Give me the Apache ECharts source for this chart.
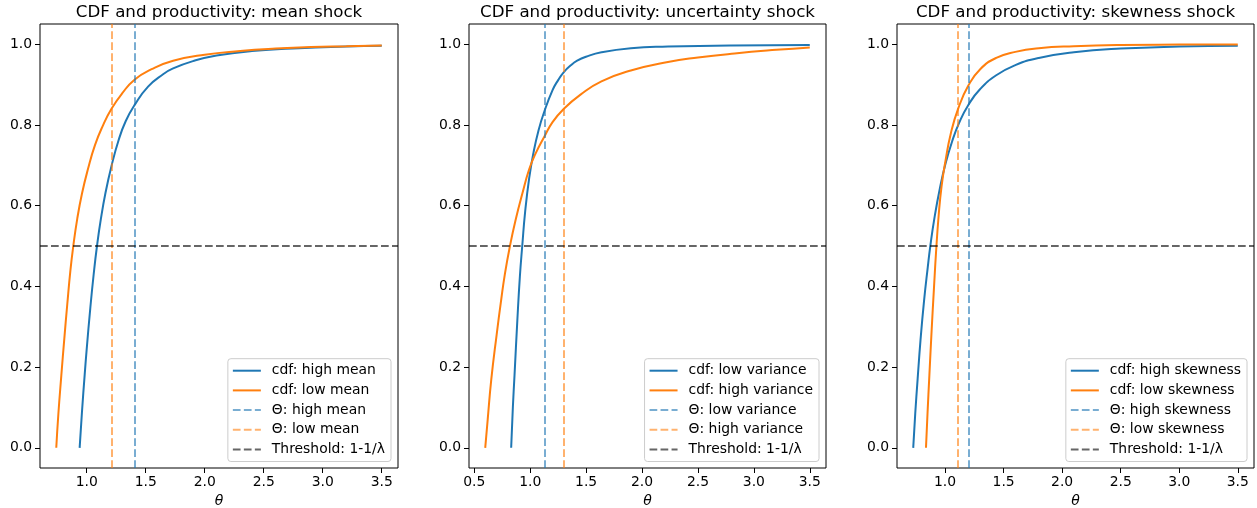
<!DOCTYPE html>
<html>
<head>
<meta charset="utf-8">
<title>CDF and productivity</title>
<script src="https://cdn.jsdelivr.net/npm/echarts@6/dist/echarts.min.js"></script>
<style>
  html, body { margin: 0; padding: 0; background: #ffffff; }
  #chart { width: 1257px; height: 508px; }
</style>
</head>
<body>
<div id="chart"></div>
<script>
// ---- values -------------------------------------------------------------
const panelTitles = [
  'CDF and productivity: mean shock',
  'CDF and productivity: uncertainty shock',
  'CDF and productivity: skewness shock'
];
const xTicks = [
  [1.0, 1.5, 2.0, 2.5, 3.0, 3.5],
  [0.5, 1.0, 1.5, 2.0, 2.5, 3.0, 3.5],
  [1.0, 1.5, 2.0, 2.5, 3.0, 3.5]
];
const yTicks = [0.0, 0.2, 0.4, 0.6, 0.8, 1.0];
const threshold = 0.5; // 1 - 1/λ

// mean shock
const thetaHighMean = [0.94, 0.96, 0.983, 1.0, 1.03, 1.059, 1.087, 1.12, 1.16, 1.209, 1.27, 1.33, 1.405, 1.52, 1.65, 1.732, 1.9, 2.1, 2.4, 2.8, 3.2, 3.5];
const cdfHighMean   = [0, 0.09, 0.182, 0.245, 0.345, 0.43, 0.5, 0.567, 0.633, 0.697, 0.762, 0.809, 0.849, 0.895, 0.926, 0.94, 0.958, 0.972, 0.983, 0.99, 0.994, 0.996];
const thetaLowMean  = [0.742, 0.76, 0.785, 0.81, 0.835, 0.862, 0.884, 0.92, 0.96, 1.01, 1.07, 1.14, 1.21, 1.3, 1.405, 1.55, 1.732, 2.0, 2.3, 2.6, 2.9, 3.2, 3.5];
const cdfLowMean    = [0, 0.085, 0.18, 0.27, 0.355, 0.44, 0.495, 0.568, 0.63, 0.69, 0.75, 0.8, 0.84, 0.878, 0.912, 0.938, 0.959, 0.974, 0.983, 0.989, 0.993, 0.995, 0.997];
const thetaMarkMean = [1.405, 1.21]; // Θ: high mean, Θ: low mean

// uncertainty shock
const thetaLowVar   = [0.83, 0.845, 0.86, 0.885, 0.908, 0.929, 0.955, 0.991, 1.03, 1.075, 1.125, 1.2, 1.25, 1.301, 1.36, 1.42, 1.5, 1.637, 1.9, 2.232, 2.8, 3.5];
const cdfLowVar     = [0, 0.1, 0.18, 0.315, 0.425, 0.5, 0.585, 0.668, 0.732, 0.787, 0.832, 0.886, 0.911, 0.931, 0.947, 0.959, 0.969, 0.98, 0.99, 0.994, 0.997, 0.998];
const thetaHighVar  = [0.598, 0.62, 0.652, 0.7, 0.74, 0.774, 0.819, 0.87, 0.93, 0.991, 1.05, 1.125, 1.2, 1.301, 1.45, 1.637, 1.9, 2.232, 2.5, 2.828, 3.2, 3.5];
const cdfHighVar    = [0, 0.07, 0.169, 0.28, 0.365, 0.431, 0.5, 0.565, 0.63, 0.69, 0.73, 0.77, 0.807, 0.84, 0.875, 0.908, 0.935, 0.956, 0.967, 0.977, 0.986, 0.992];
const thetaMarkVar  = [1.125, 1.301]; // Θ: low variance, Θ: high variance

// skewness shock
const thetaHighSkew = [0.728, 0.745, 0.766, 0.79, 0.82, 0.852, 0.874, 0.91, 0.955, 1.003, 1.06, 1.12, 1.2, 1.3, 1.437, 1.6, 1.8, 2.1, 2.5, 3.0, 3.5];
const cdfHighSkew   = [0, 0.084, 0.172, 0.266, 0.363, 0.447, 0.5, 0.571, 0.642, 0.703, 0.759, 0.805, 0.85, 0.889, 0.923, 0.948, 0.966, 0.98, 0.989, 0.994, 0.996];
const thetaLowSkew  = [0.837, 0.85, 0.866, 0.885, 0.905, 0.923, 0.945, 0.97, 1.003, 1.05, 1.114, 1.2, 1.3, 1.437, 1.6, 1.8, 2.1, 2.5, 3.0, 3.5];
const cdfLowSkew    = [0, 0.085, 0.18, 0.29, 0.395, 0.485, 0.575, 0.648, 0.71, 0.78, 0.842, 0.898, 0.938, 0.966, 0.981, 0.99, 0.995, 0.998, 0.999, 0.9995];
const thetaMarkSkew = [1.2, 1.114]; // Θ: high skewness, Θ: low skewness

// ---- styling ------------------------------------------------------------
const FONT = "'DejaVu Sans', 'Liberation Sans', sans-serif";
const BLUE = '#1f77b4';
const ORANGE = '#ff7f0e';
const BLUE_FADED = 'rgba(31,119,180,0.6)';
const ORANGE_FADED = 'rgba(255,127,14,0.6)';
const GREY = 'rgba(0,0,0,0.6)';
const DASH = [7.7, 3.3];
const LINE_W = 2;

const grids = [
  { left: 40,  top: 24, width: 358, height: 444 },
  { left: 469, top: 24, width: 357, height: 444 },
  { left: 897, top: 24, width: 357, height: 444 }
];
const legendRight = [866, 438, 10];

const panels = [
  {
    curves: [
      { name: 'cdf: high mean', theta: thetaHighMean, cdf: cdfHighMean, color: BLUE },
      { name: 'cdf: low mean',  theta: thetaLowMean,  cdf: cdfLowMean,  color: ORANGE }
    ],
    marks: [
      { name: 'Θ: high mean', x: thetaMarkMean[0], color: BLUE_FADED },
      { name: 'Θ: low mean',  x: thetaMarkMean[1], color: ORANGE_FADED }
    ]
  },
  {
    curves: [
      { name: 'cdf: low variance',  theta: thetaLowVar,  cdf: cdfLowVar,  color: BLUE },
      { name: 'cdf: high variance', theta: thetaHighVar, cdf: cdfHighVar, color: ORANGE }
    ],
    marks: [
      { name: 'Θ: low variance',  x: thetaMarkVar[0], color: BLUE_FADED },
      { name: 'Θ: high variance', x: thetaMarkVar[1], color: ORANGE_FADED }
    ]
  },
  {
    curves: [
      { name: 'cdf: high skewness', theta: thetaHighSkew, cdf: cdfHighSkew, color: BLUE },
      { name: 'cdf: low skewness',  theta: thetaLowSkew,  cdf: cdfLowSkew,  color: ORANGE }
    ],
    marks: [
      { name: 'Θ: high skewness', x: thetaMarkSkew[0], color: BLUE_FADED },
      { name: 'Θ: low skewness',  x: thetaMarkSkew[1], color: ORANGE_FADED }
    ]
  }
];
const thresholdName = 'Threshold: 1-1/λ';

// ---- option ---------------------------------------------------------------
const fmt = v => Number(v).toFixed(1);
const option = {
  animation: false,
  backgroundColor: '#ffffff',
  textStyle: { fontFamily: FONT },
  title: [], grid: [], xAxis: [], yAxis: [], legend: [], series: []
};

// a dashed reference line drawn as markLine on an otherwise empty series
function refLine(name, idx, color, where) {
  return {
    type: 'line', name, xAxisIndex: idx, yAxisIndex: idx,
    data: [], symbol: 'none',
    itemStyle: { color },
    lineStyle: { color, width: LINE_W, type: DASH },
    markLine: {
      silent: true, symbol: ['none', 'none'], animation: false,
      label: { show: false },
      emphasis: { disabled: true },
      lineStyle: { color, width: LINE_W, type: DASH, opacity: 1 },
      data: [where]
    }
  };
}

panels.forEach((p, i) => {
  const g = grids[i];
  option.grid.push(Object.assign({
    show: true, borderColor: '#000', borderWidth: 1, backgroundColor: 'transparent',
    outerBoundsMode: 'none', containLabel: false
  }, g));

  option.title.push({
    text: panelTitles[i],
    left: g.left + g.width / 2, top: 4, textAlign: 'center', padding: 0,
    textStyle: { fontFamily: FONT, fontSize: 16.7, fontWeight: 'normal', color: '#000' }
  });

  // autoscale with the usual 5 % data margin
  const allTheta = [].concat(...p.curves.map(c => c.theta));
  const lo = Math.min(...allTheta), hi = Math.max(...allTheta);
  const pad = 0.05 * (hi - lo);

  option.xAxis.push({
    type: 'value', gridIndex: i, min: lo - pad, max: hi + pad,
    name: 'θ', nameLocation: 'middle', nameGap: 26,
    nameTextStyle: { fontFamily: FONT, fontStyle: 'italic', fontSize: 14, color: '#000' },
    axisLine: { show: false, onZero: false },
    splitLine: { show: false },
    axisTick: { show: true, length: 5, lineStyle: { color: '#000', width: 1 }, customValues: xTicks[i] },
    axisLabel: { fontFamily: FONT, fontSize: 13.9, color: '#000', margin: 7, formatter: fmt, customValues: xTicks[i] }
  });
  option.yAxis.push({
    type: 'value', gridIndex: i, min: -0.05, max: 1.05,
    axisLine: { show: false, onZero: false },
    splitLine: { show: false },
    axisTick: { show: true, length: 5, lineStyle: { color: '#000', width: 1 }, customValues: yTicks },
    axisLabel: { fontFamily: FONT, fontSize: 13.9, color: '#000', margin: 8, formatter: fmt, customValues: yTicks }
  });

  p.curves.forEach(c => {
    option.series.push({
      type: 'line', name: c.name, xAxisIndex: i, yAxisIndex: i,
      data: c.theta.map((t, k) => [t, c.cdf[k]]),
      symbol: 'none', showSymbol: false,
      smooth: 0.5,
      itemStyle: { color: c.color },
      lineStyle: { color: c.color, width: LINE_W },
      emphasis: { disabled: true }
    });
  });
  p.marks.forEach(m => option.series.push(refLine(m.name, i, m.color, { xAxis: m.x })));
  option.series.push(refLine(thresholdName, i, GREY, { yAxis: threshold }));

  option.legend.push({
    data: p.curves.map(c => c.name).concat(p.marks.map(m => m.name), [thresholdName]),
    orient: 'vertical', right: legendRight[i], bottom: 46.5,
    itemWidth: 28, itemHeight: 14, itemGap: 5.7,
    padding: [5, 6, 5, 4],
    backgroundColor: 'rgba(255,255,255,0.8)',
    borderColor: '#cccccc', borderWidth: 1, borderRadius: 3,
    itemStyle: { opacity: 0 },
    selectedMode: false,
    textStyle: { fontFamily: FONT, fontSize: 13.9, color: '#000', padding: [0, 0, 0, 6] }
  });
});

const chart = echarts.init(document.getElementById('chart'), null, { renderer: 'canvas' });
chart.setOption(option);
</script>
</body>
</html>
